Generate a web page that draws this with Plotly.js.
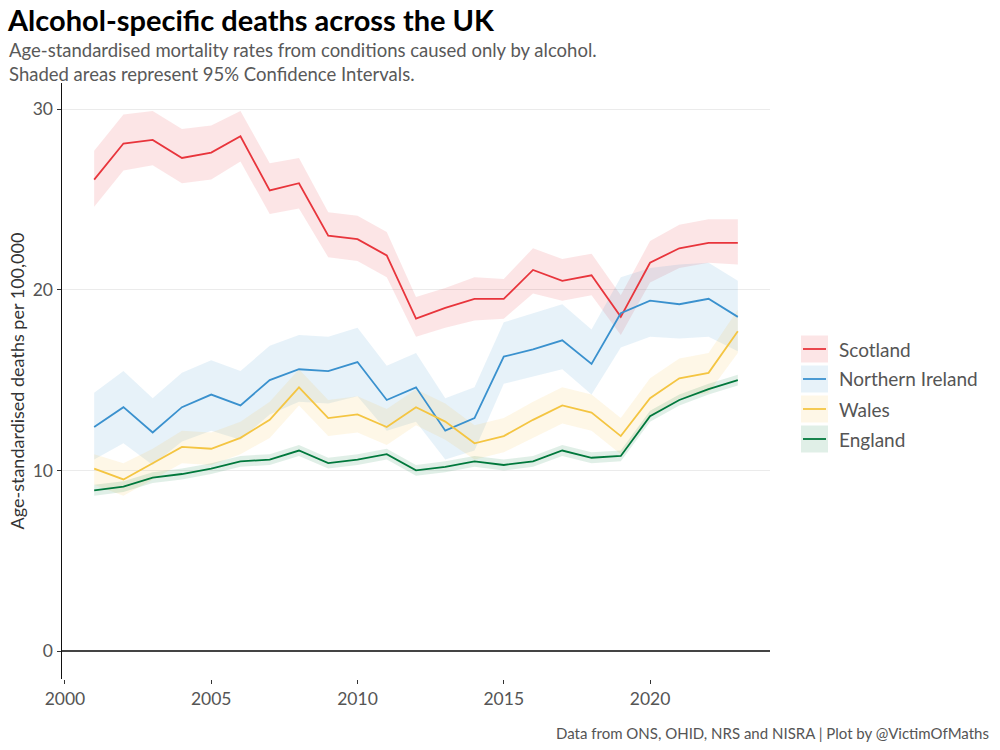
<!DOCTYPE html>
<html>
<head>
<meta charset="utf-8">
<script src="https://cdn.plot.ly/plotly-3.0.1.min.js"></script>
<style>html,body{margin:0;padding:0;background:#fff;}#chart{width:1000px;height:750px;}</style>
</head>
<body>
<div id="chart"></div>
<script>
// ---- Data ----
const years = [2001,2002,2003,2004,2005,2006,2007,2008,2009,2010,2011,2012,2013,2014,2015,2016,2017,2018,2019,2020,2021,2022,2023];

const scotland      = [26.1,28.1,28.3,27.3,27.6,28.5,25.5,25.9,23.0,22.8,21.9,18.4,19.0,19.5,19.5,21.1,20.5,20.8,18.5,21.5,22.3,22.6,22.6];
const scotlandUpper = [27.7,29.7,29.9,28.9,29.1,29.9,27.0,27.3,24.3,24.1,23.2,19.6,20.1,20.7,20.6,22.3,21.7,22.0,19.7,22.7,23.6,23.9,23.9];
const scotlandLower = [24.6,26.6,26.9,25.9,26.1,27.1,24.2,24.5,21.8,21.6,20.7,17.4,17.9,18.3,18.4,19.8,19.4,19.7,17.5,20.4,21.2,21.5,21.4];

const nIreland      = [12.4,13.5,12.1,13.5,14.2,13.6,15.0,15.6,15.5,16.0,13.9,14.6,12.2,12.9,16.3,16.7,17.2,15.9,18.7,19.4,19.2,19.5,18.5];
const nIrelandUpper = [14.3,15.5,14.0,15.4,16.1,15.5,16.9,17.5,17.4,17.9,15.8,16.5,14.0,14.6,18.2,18.7,19.2,17.8,20.7,21.2,21.4,21.5,20.5];
const nIrelandLower = [10.6,11.5,10.3,11.6,12.2,11.7,13.1,13.8,13.7,14.1,12.2,12.7,10.6,11.1,14.8,15.2,15.6,14.2,16.8,17.4,17.3,17.4,16.6];

const wales      = [10.1,9.5,10.4,11.3,11.2,11.8,12.8,14.6,12.9,13.1,12.4,13.5,12.7,11.5,11.9,12.8,13.6,13.2,11.9,14.0,15.1,15.4,17.7];
const walesUpper = [10.9,10.4,11.2,12.2,12.1,12.7,13.8,15.6,13.9,14.1,13.4,14.5,13.7,12.5,12.9,13.8,14.6,14.2,12.9,15.1,16.2,16.5,18.9];
const walesLower = [9.2,8.6,9.5,10.4,10.3,10.9,11.8,13.6,11.9,12.1,11.4,12.5,11.7,10.6,11.0,11.8,12.6,12.2,10.9,13.0,14.0,14.3,16.5];

const england      = [8.9,9.1,9.6,9.8,10.1,10.5,10.6,11.1,10.4,10.6,10.9,10.0,10.2,10.5,10.3,10.5,11.1,10.7,10.8,13.0,13.9,14.5,15.0];
const englandUpper = [9.2,9.4,9.9,10.1,10.4,10.8,10.9,11.4,10.7,10.9,11.2,10.3,10.5,10.8,10.6,10.8,11.4,11.0,11.1,13.3,14.2,14.8,15.3];
const englandLower = [8.6,8.8,9.3,9.5,9.8,10.2,10.3,10.8,10.1,10.3,10.6,9.7,9.9,10.2,10.0,10.2,10.8,10.4,10.5,12.7,13.6,14.2,14.7];

const countries = ['Scotland','Northern Ireland','Wales','England'];
const xTickVals = [2000,2005,2010,2015,2020];
const yTickVals = [0,10,20,30];

// ---- Styling ----
const lineColors = ['#E8353C','#3A91CE','#F4C542','#00783C'];
const bandColors = ['rgba(232,53,60,0.13)','rgba(58,145,206,0.12)','rgba(244,197,66,0.13)','rgba(0,120,60,0.12)'];
const FONT = 'Lato, "Open Sans", sans-serif';

const series = [
  {mid: scotland, up: scotlandUpper, lo: scotlandLower},
  {mid: nIreland, up: nIrelandUpper, lo: nIrelandLower},
  {mid: wales, up: walesUpper, lo: walesLower},
  {mid: england, up: englandUpper, lo: englandLower}
];

const traces = [];
series.forEach((s, i) => {
  traces.push({x: years, y: s.lo, type: 'scatter', mode: 'lines', line: {width: 0, color: bandColors[i]},
               hoverinfo: 'skip', showlegend: false});
  traces.push({x: years, y: s.up, type: 'scatter', mode: 'lines', line: {width: 0, color: bandColors[i]},
               fill: 'tonexty', fillcolor: bandColors[i], hoverinfo: 'skip', showlegend: false});
});
series.forEach((s, i) => {
  traces.push({x: years, y: s.mid, type: 'scatter', mode: 'lines', name: countries[i],
               line: {width: 1.8, color: lineColors[i]}, showlegend: false});
});

// ---- Manual ggplot-style legend (keys + labels) ----
const L = 62, R = 230, T = 83, B = 71, W = 1000, H = 750;
const pw = W - L - R, ph = H - T - B;
const px = v => (v - L) / pw;
const py = v => (H - B - v) / ph;
const shapes = [];
const annotations = [];
const legendCenters = [349, 379, 409, 439];
countries.forEach((c, i) => {
  const cy = legendCenters[i];
  shapes.push({type: 'rect', xref: 'paper', yref: 'paper', x0: px(801), x1: px(828), y0: py(cy + 13.5), y1: py(cy - 13.5),
               fillcolor: bandColors[i], line: {width: 0}, layer: 'above'});
  shapes.push({type: 'line', xref: 'paper', yref: 'paper', x0: px(803), x1: px(826), y0: py(cy), y1: py(cy),
               line: {color: lineColors[i], width: 1.8}, layer: 'above'});
  annotations.push({xref: 'paper', yref: 'paper', x: px(837), y: py(cy), xanchor: 'left', yanchor: 'middle',
                    text: c, showarrow: false, font: {family: FONT, size: 19, color: '#555555'}});
});

annotations.push({xref: 'paper', yref: 'paper', x: px(8), y: py(62), xanchor: 'left', yanchor: 'middle', align: 'left',
  text: 'Age-standardised mortality rates from conditions caused only by alcohol.<br>Shaded areas represent 95% Confidence Intervals.',
  showarrow: false, borderpad: 0, font: {family: FONT, size: 18.5, color: '#595959'}});
annotations.push({xref: 'paper', yref: 'paper', x: px(991), y: py(733), xanchor: 'right', yanchor: 'middle',
  text: 'Data from ONS, OHID, NRS and NISRA | Plot by @VictimOfMaths',
  showarrow: false, font: {family: FONT, size: 15, color: '#555555'}});

const layout = {
  width: W, height: H,
  margin: {l: L, r: R, t: T, b: B, pad: 0},
  paper_bgcolor: '#ffffff', plot_bgcolor: '#ffffff',
  showlegend: false,
  font: {family: FONT, color: '#555555'},
  title: {text: 'Alcohol-specific deaths across the UK', xref: 'container', yref: 'container',
          x: 0.008, xanchor: 'left', y: 1 - 21/750, yanchor: 'middle',
          font: {family: FONT, size: 29, color: '#000000', weight: 'bold'}},
  xaxis: {range: [1999.9, 2024.1], tickvals: xTickVals, ticktext: xTickVals.map(String),
          ticks: 'outside', ticklen: 4, tickwidth: 1, tickcolor: '#333333',
          showgrid: false, zeroline: false, showline: false,
          tickfont: {family: FONT, size: 17.5, color: '#555555'}, fixedrange: true},
  yaxis: {range: [-1.55, 31.45], tickvals: yTickVals, ticktext: yTickVals.map(String),
          ticks: 'outside', ticklen: 4, tickwidth: 1, tickcolor: '#333333',
          showgrid: true, gridcolor: '#ebebeb', gridwidth: 1,
          zeroline: true, zerolinecolor: '#444444', zerolinewidth: 1.5,
          showline: true, linecolor: '#111111', linewidth: 1.5,
          tickfont: {family: FONT, size: 17.5, color: '#555555'},
          title: {text: 'Age-standardised deaths per 100,000', standoff: 3,
                  font: {family: FONT, size: 18, color: '#333333'}},
          automargin: false, fixedrange: true},
  shapes: shapes,
  annotations: annotations
};

Plotly.newPlot('chart', traces, layout, {displayModeBar: false, staticPlot: true});
</script>
</body>
</html>
